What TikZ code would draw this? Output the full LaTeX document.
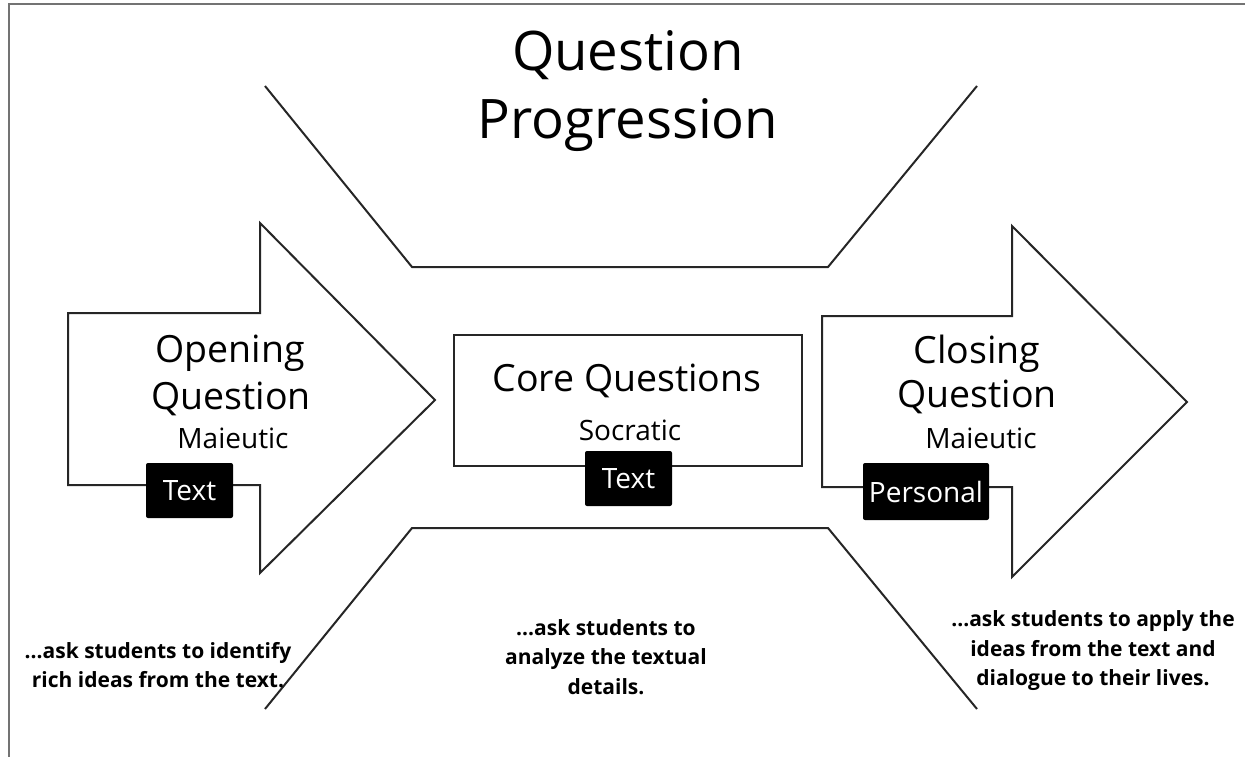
\documentclass[tikz,border=0pt]{standalone}
\usepackage{fontspec}
\setmainfont{Open Sans}
\begin{document}
\begin{tikzpicture}[x=1pt,y=-1pt,
  outline/.style={draw=black!85, line width=2pt, line join=miter},
  frame/.style={draw=black!55, line width=2.5pt},
  tag/.style={fill=black, text=white, rounded corners=2pt, inner sep=0pt,
    font=\fontsize{28}{30}\selectfont},
  big/.style={inner sep=0pt, font=\fontsize{37.5}{40}\selectfont},
  sub/.style={inner sep=0pt, font=\fontsize{28}{30}\selectfont},
  note/.style={inner sep=0pt, align=center, font=\bfseries\fontsize{21}{29.5}\selectfont}]
\useasboundingbox (0,0) rectangle (1245,757);
% frame
\draw[frame] (9,757) -- (9,4) -- (1245,4);
% title
\node[inner sep=0pt, align=center, font=\fontsize{54.5}{68}\selectfont] (title) at (628,91) {Question\\Progression};
% funnel lines
\draw[outline] (265,86) -- (412,267) -- (828,267) -- (977,86);
\draw[outline] (265,709) -- (412,528) -- (828,528) -- (977,709);
% left arrow
\draw[outline, fill=white] (68,313) -- (260,313) -- (260,223) -- (435,400) -- (260,573) -- (260,485) -- (68,485) -- cycle;
% right arrow
\draw[outline, fill=white] (822,316) -- (1012,316) -- (1012,226) -- (1187,402) -- (1012,577) -- (1012,487) -- (822,487) -- cycle;
% core box
\draw[outline] (454,335) rectangle (802,466);
% texts
\node[big] (open) at (230,353) {Opening};
\node[big] (openq) at (231,399) {Question};
\node[sub] (openm) at (233,438) {Maieutic};
\node[big] (close) at (977,354) {Closing};
\node[big] (closeq) at (977,397) {Question};
\node[sub] (closem) at (981,438) {Maieutic};
\node[big] (core) at (627,381) {Core Questions};
\node[sub] (corem) at (630,430) {Socratic};
% tags
\node[tag, minimum width=87pt, minimum height=55pt] (tagl) at (189.5,490.5) {Text};
\node[tag, minimum width=87pt, minimum height=55pt] (tagc) at (628.5,478.5) {Text};
\node[tag, minimum width=126pt, minimum height=57pt] (tagr) at (926,491.5) {Personal};
% notes
\node[note] (notel) at (158,665) {...ask students to identify\\rich ideas from the text.};
\node[note] (notec) at (606,657) {...ask students to\\analyze the textual\\details.};
\node[note] (noter) at (1093,651) {...ask students to apply the\\ideas from the text and\\dialogue to their lives.};
\end{tikzpicture}
\end{document}
